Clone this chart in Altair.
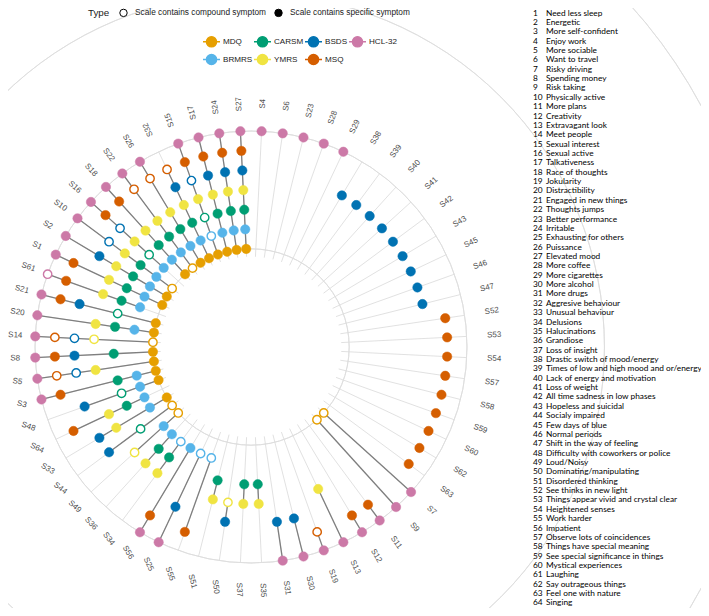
import math
import altair as alt
import pandas as pd

# ---------------- data ----------------
SCALES = ["MDQ", "BRMRS", "CARSM", "YMRS", "BSDS", "MSQ", "HCL-32"]
SCALE_COLORS = ["#E69F00", "#56B4E9", "#009E73", "#F0E442", "#0072B2", "#D55E00", "#CC79A7"]
TYPES = ["Scale contains compound symptom", "Scale contains specific symptom"]

# symptoms clockwise from the top
SYMPTOM_ORDER = ["S4", "S6", "S23", "S28", "S29", "S38", "S39", "S40", "S41", "S42", "S43", "S45",
                 "S46", "S47", "S52", "S53", "S54", "S57", "S58", "S59", "S60", "S62", "S63", "S7",
                 "S9", "S11", "S12", "S13", "S19", "S30", "S31", "S35", "S37", "S50", "S51", "S55",
                 "S25", "S56", "S34", "S36", "S49", "S44", "S33", "S64", "S48", "S3", "S5", "S8",
                 "S14", "S20", "S21", "S61", "S1", "S2", "S10", "S16", "S18", "S22", "S26", "S32",
                 "S15", "S17", "S24", "S27"]

# one code per symptom, one character per scale (MDQ, BRMRS, CARSM, YMRS, BSDS, MSQ, HCL-32)
# '-' = not in scale, 'o' = compound symptom, 'x' = specific symptom
MEMBERSHIP = ["------x", "------x", "------x", "------x", "------x",
              "----x--", "----x--", "----x--", "----x--", "----x--", "----x--", "----x--",
              "----x--", "----x--",
              "-----x-", "-----x-", "-----x-", "-----x-", "-----x-", "-----x-", "-----x-",
              "-----x-", "-----x-",
              "o-----x", "o-----x", "-----xx", "-----xx", "---x--x", "-----ox", "----x-x",
              "----x-x", "--xx---", "--xx---", "---ox--", "--xx---", "-o---x-", "-o--x-x",
              "-x---xx", "-oxx---", "-xxx---", "ox-o---", "o-o-x--", "xx-xx--", "-xxx-x-",
              "xxo-x--", "xxx--xx", "x--xoox", "x-x-xxx", "o--ooox", "xxxx--x", "x-o-xxx",
              "-xxx-xo", "xxxx-xx", "xxxxx-x", "oxxxo-x", "-xoxoxx", "xxxx-xx", "oxxx-ox",
              "xxxx-ox", "xxxxxo-", "xooxoxx", "xxxxxxx", "xxxxxxx", "xxxxxxx"]

SYMPTOM_NAMES = ["Need less sleep", "Energetic", "More self-confident", "Enjoy work", "More sociable",
                 "Want to travel", "Risky driving", "Spending money", "Risk taking", "Physically active",
                 "More plans", "Creativity", "Extravagant look", "Meet people", "Sexual interest",
                 "Sexual active", "Talkativeness", "Race of thoughts", "Jokularity", "Distractibility",
                 "Engaged in new things", "Thoughts jumps", "Better performance", "Irritable",
                 "Exhausting for others", "Puissance", "Elevated mood", "More coffee", "More cigarettes",
                 "More alcohol", "More drugs", "Aggresive behaviour", "Unusual behaviour", "Delusions",
                 "Halucinations", "Grandiose", "Loss of insight", "Drastic switch of mood/energy",
                 "Times of low and high mood and or/energy", "Lack of energy and motivation",
                 "Loss of weight", "All time sadness in low phases", "Hopeless and suicidal",
                 "Socialy impaired", "Few days of blue", "Normal periods", "Shift in the way of feeling",
                 "Difficulty with coworkers or police", "Loud/Noisy", "Dominating/manipulating",
                 "Disordered thinking", "See thinks in new light", "Things appear vivid and crystal clear",
                 "Heightened senses", "Work harder", "Impatient", "Observe lots of coincidences",
                 "Things have special meaning", "See special significance in things",
                 "Mystical experiences", "Laughing", "Say outrageous things", "Feel one with nature",
                 "Singing"]

# ---------------- tables built from the lists ----------------
N = len(SYMPTOM_ORDER)
rows = []
for i, (sym, code) in enumerate(zip(SYMPTOM_ORDER, MEMBERSHIP)):
    for k, ch in enumerate(code):
        if ch != "-":
            rows.append({"symptom": sym, "idx": i, "scale": SCALES[k], "level": k + 1,
                         "type": TYPES[0] if ch == "o" else TYPES[1]})
points_df = pd.DataFrame(rows)
spokes_df = pd.DataFrame({"symptom": SYMPTOM_ORDER, "idx": list(range(N))})
rings_df = pd.DataFrame({"level": list(range(1, len(SCALES) + 1))})
list_df = pd.DataFrame({"num": list(range(1, len(SYMPTOM_NAMES) + 1)), "name": SYMPTOM_NAMES})
type_df = pd.DataFrame({"type": TYPES})

# ---------------- layout ----------------
W, H = 693, 600
HOLE = 4                    # radial units left empty in the middle
R_OUT = len(SCALES) + HOLE  # outermost ring in radial units
R_PX = 216                  # outer ring radius in px
PX = R_PX / R_OUT
CX, CY = 243, 339           # circle centre in the plot area (px)
X_SCALE = alt.Scale(domain=[-CX / PX, (W - CX) / PX], nice=False, zero=False)
Y_SCALE = alt.Scale(domain=[-(H - CY) / PX, CY / PX], nice=False, zero=False)
SPOKE_IN = 4.6
LABEL_R = 12.4
LABEL_PULL = 0.38           # labels on the left come in a little so they stay on the page
GRID = "#DEDEDE"
FONT = "Liberation Sans"
LIST_FONT = "Lato"

TH = f"2*PI*(datum.idx+0.5)/{N}"

# ---------------- layers ----------------
rings = alt.Chart(rings_df).transform_calculate(
    rho=f"datum.level+{HOLE}"
).mark_arc(theta=0, theta2=2 * math.pi, fillOpacity=0, stroke=GRID, strokeWidth=0.9).encode(
    x=alt.XDatum(0, scale=X_SCALE, axis=None),
    y=alt.YDatum(0, scale=Y_SCALE, axis=None),
    radius=alt.Radius("rho:Q", scale=alt.Scale(type="linear", domain=[0, R_OUT], range=[0, R_PX])),
)

spokes = alt.Chart(spokes_df).transform_calculate(th=TH).transform_calculate(
    x1=f"{SPOKE_IN}*sin(datum.th)", y1=f"{SPOKE_IN}*cos(datum.th)",
    x2=f"{R_OUT}*sin(datum.th)", y2=f"{R_OUT}*cos(datum.th)",
).mark_rule(color=GRID, strokeWidth=0.9).encode(
    x=alt.X("x1:Q", scale=X_SCALE, axis=None),
    y=alt.Y("y1:Q", scale=Y_SCALE, axis=None),
    x2="x2:Q", y2="y2:Q",
)

pts = alt.Chart(points_df).transform_calculate(
    th=TH, rho=f"datum.level+{HOLE}"
).transform_calculate(
    px="datum.rho*sin(datum.th)", py="datum.rho*cos(datum.th)"
)
PX_ENC = alt.X("px:Q", scale=X_SCALE, axis=None)
PY_ENC = alt.Y("py:Q", scale=Y_SCALE, axis=None)

lines = pts.mark_line(color="#7F7F7F", strokeWidth=1.3).encode(
    x=PX_ENC, y=PY_ENC, detail="symptom:N", order="level:Q"
)

color_scale = alt.Scale(domain=SCALES, range=SCALE_COLORS)
color_legend = alt.Legend(
    title=None, orient="none", legendX=194, legendY=24, columns=4,
    symbolType="M-1,0H1M0.6,0A0.6,0.6,0,1,1,-0.6,0A0.6,0.6,0,1,1,0.6,0Z",
    symbolSize=289, symbolStrokeWidth=1.4, symbolOpacity=1,
    labelFont=FONT, labelFontSize=8.1, labelColor="#1A1A1A", labelOffset=2,
    columnPadding=-2, rowPadding=-3,
)

filled = pts.transform_filter(f"datum.type == '{TYPES[1]}'").mark_point(
    filled=True, size=88, opacity=1, strokeWidth=0.5
).encode(
    x=PX_ENC, y=PY_ENC,
    fill=alt.Fill("scale:N", scale=color_scale, legend=color_legend),
    stroke=alt.Stroke("scale:N", scale=color_scale, legend=color_legend),
)

hollow = pts.transform_filter(f"datum.type == '{TYPES[0]}'").mark_point(
    filled=False, fill="white", size=70, opacity=1, strokeWidth=1.4
).encode(
    x=PX_ENC, y=PY_ENC,
    color=alt.Color("scale:N", scale=color_scale, legend=None),
)

labels = alt.Chart(spokes_df).transform_calculate(
    th=TH, deg=f"360*(datum.idx+0.5)/{N}"
).transform_calculate(
    lr=f"{LABEL_R} - {LABEL_PULL}*max(0, -sin(datum.th))"
).transform_calculate(
    lx="datum.lr*sin(datum.th)", ly="datum.lr*cos(datum.th)",
    ang=("datum.deg < 180 ? (datum.deg + 270) % 360 : "
         "(datum.deg < 270 ? 270 - datum.deg : "
         "(datum.deg < 332 ? datum.deg - 270 : datum.deg - 90))"),
).mark_text(font=FONT, fontSize=8, color="#4D4D4D", align="center", baseline="middle").encode(
    x=alt.X("lx:Q", scale=X_SCALE, axis=None),
    y=alt.Y("ly:Q", scale=Y_SCALE, axis=None),
    text="symptom:N",
    angle=alt.Angle("ang:Q", scale=None),
)

type_legend = alt.Chart(type_df).mark_point(filled=True, opacity=0).encode(
    x=alt.XDatum(0, scale=X_SCALE, axis=None),
    y=alt.YDatum(0, scale=Y_SCALE, axis=None),
    color=alt.Color("type:N", scale=alt.Scale(domain=TYPES, range=["white", "black"]),
                    legend=alt.Legend(
                        title="Type", orient="none", legendX=80, legendY=0,
                        direction="horizontal", titleOrient="left",
                        titleFont=FONT, titleFontSize=9.8, titleFontWeight="normal",
                        titleColor="#1A1A1A", titlePadding=9,
                        labelFont=FONT, labelFontSize=8.3, labelColor="#1A1A1A", labelOffset=7,
                        symbolType="circle", symbolSize=55, symbolStrokeColor="black",
                        symbolStrokeWidth=1, symbolOpacity=1, columnPadding=6,
                    )),
)

LIST_Y = alt.Scale(domain=[0.41271, 64.4807], reverse=True, nice=False, zero=False)
list_nums = alt.Chart(list_df).mark_text(
    font=LIST_FONT, fontSize=8.3, align="left", baseline="middle", color="black"
).encode(x=alt.value(525), y=alt.Y("num:Q", scale=LIST_Y, axis=None), text="num:N")
list_names = alt.Chart(list_df).mark_text(
    font=LIST_FONT, fontSize=8.3, align="left", baseline="middle", color="black"
).encode(x=alt.value(538), y=alt.Y("num:Q", scale=LIST_Y, axis=None), text="name:N")

chart = alt.layer(
    rings, spokes, lines, filled, hollow, labels, type_legend, list_nums, list_names
).resolve_scale(
    y="independent", color="independent"
).properties(
    width=W, height=H, autosize=alt.AutoSizeParams(type="none"), padding=0
).configure_view(stroke="transparent")

chart.save("out.html", embed_options={"renderer": "svg", "actions": False})
